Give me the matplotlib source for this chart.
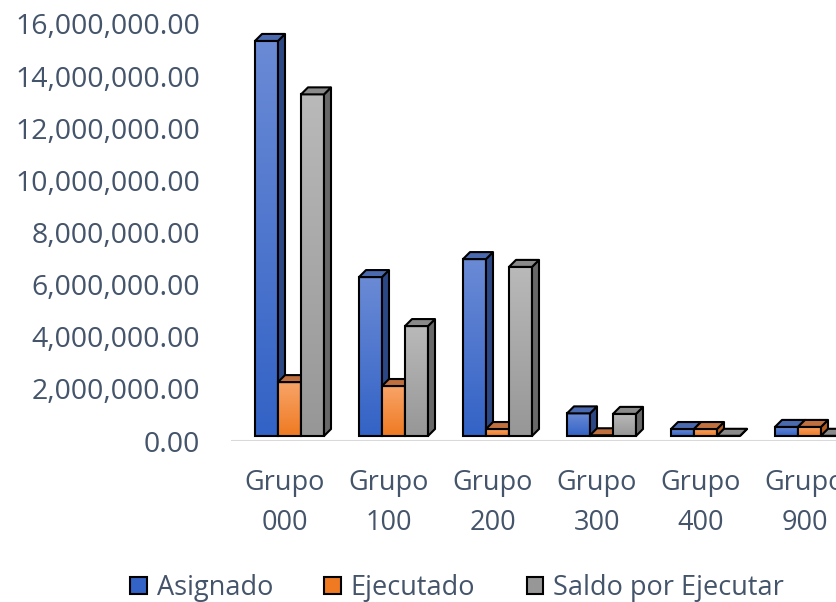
import numpy as np
import matplotlib.pyplot as plt
from matplotlib.patches import Polygon, Patch
from matplotlib.colors import LinearSegmentedColormap
from matplotlib.ticker import FuncFormatter

plt.rcParams['font.family'] = ['Open Sans', 'DejaVu Sans']

grupos = ["Grupo\n000", "Grupo\n100", "Grupo\n200", "Grupo\n300", "Grupo\n400", "Grupo\n900"]
asignado = [15350000, 6290000, 6980000, 1060000, 460000, 540000]
ejecutado = [2260000, 2110000, 460000, 220000, 460000, 540000]
saldo = [13300000, 4410000, 6680000, 1040000, 200000, 200000]
series_names = ["Asignado", "Ejecutado", "Saldo por Ejecutar"]

# front gradient (top, bottom), side, top face
colors = [
    ("#6a8ad5", "#3363c6", "#2c4884", "#4a69ae"),
    ("#f8a468", "#ef7a22", "#b35c1d", "#c0703e"),
    ("#b9b9b9", "#979797", "#686868", "#8a8a8a"),
]
text_col = "#44546a"

fig = plt.figure(figsize=(8.36, 6.02), dpi=100)
W, H = 836, 602
ax_l, ax_r, ax_top, ax_bot = 231, 836, 24, 441
ax = fig.add_axes([ax_l / W, (H - ax_bot) / H, (ax_r - ax_l) / W, (ax_bot - ax_top) / H])

px_x = 1 / 104.0
px_y = 16000000 / (ax_bot - ax_top)
x_lo = -(285 - ax_l) * px_x
x_hi = x_lo + (ax_r - ax_l) * px_x

bw = 23 * px_x
dx = 7 * px_x
dy = 7 * px_y
base = 5 * px_y
off = -30 * px_x

data = [asignado, ejecutado, saldo]
z = 3
for i in range(len(grupos)):
    for s in range(3):
        v = data[s][i]
        x0 = i + off + s * bw
        x1 = x0 + bw
        ctop, cbot, cside, ctopf = colors[s]
        cmap = LinearSegmentedColormap.from_list("g", [cbot, ctop])
        grad = np.linspace(1, 0, 64).reshape(-1, 1)
        if v > base:
            ax.imshow(grad, extent=[x0, x1, base, v], cmap=cmap, aspect="auto",
                      zorder=z, interpolation="bilinear")
        top = max(v, base)
        front = Polygon([(x0, base), (x1, base), (x1, top), (x0, top)], closed=True,
                        facecolor="none", edgecolor="black", lw=1.5, zorder=z + 0.1)
        side = Polygon([(x1, base), (x1 + dx, base + dy), (x1 + dx, top + dy), (x1, top)],
                       closed=True, facecolor=cside, edgecolor="black", lw=1.5, zorder=z + 0.2)
        topf = Polygon([(x0, top), (x1, top), (x1 + dx, top + dy), (x0 + dx, top + dy)],
                       closed=True, facecolor=ctopf, edgecolor="black", lw=1.5, zorder=z + 0.2,
                       joinstyle="round")
        ax.add_patch(front)
        ax.add_patch(side)
        ax.add_patch(topf)
        z += 1

ax.axhline(0, color="#d9d9d9", lw=1.5, zorder=1)
ax.set_xlim(x_lo, x_hi)
ax.set_ylim(0, 16000000)
ax.set_yticks(np.arange(0, 16000001, 2000000))
ax.yaxis.set_major_formatter(FuncFormatter(lambda v, p: "{:,.2f}".format(v)))
ax.set_xticks(range(len(grupos)))
ax.set_xticklabels(grupos, linespacing=1.6)
ax.tick_params(axis="y", length=0, pad=22, labelsize=20.5, labelcolor=text_col)
ax.tick_params(axis="x", length=0, pad=20, labelsize=19.5, labelcolor=text_col)
for sp in ax.spines.values():
    sp.set_visible(False)

handles = [Patch(facecolor=colors[k][1], edgecolor="black", lw=1.5) for k in range(3)]
fig.legend(handles, series_names, loc="center", bbox_to_anchor=(457 / W, 14 / H),
           ncol=3, frameon=False, fontsize=19.5, labelcolor=text_col,
           handlelength=0.62, handleheight=0.62, handletextpad=0.35, columnspacing=1.9)

fig.savefig("out.png", dpi=100)
